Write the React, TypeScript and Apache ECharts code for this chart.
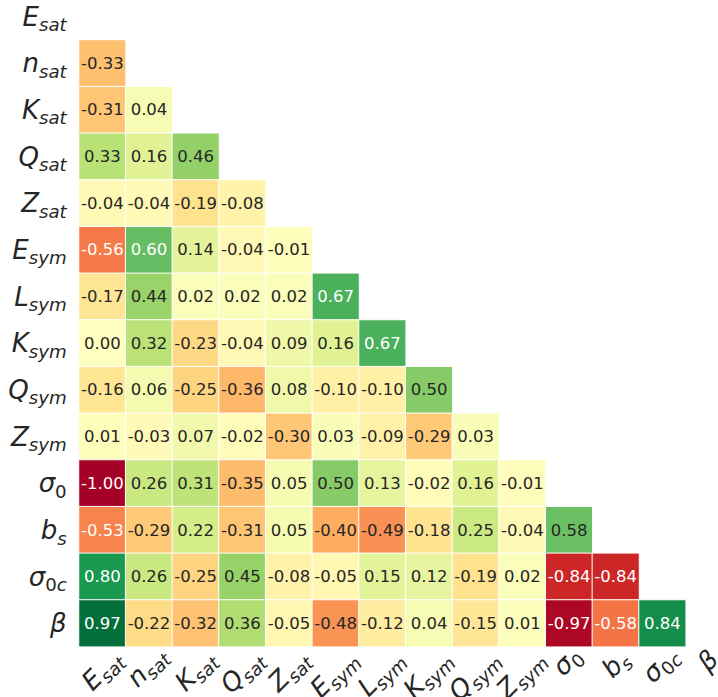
import React, { useEffect, useRef } from 'react';
import * as echarts from 'echarts';

// Variable names (categories), top-to-bottom / left-to-right
const variables = ['E_sat', 'n_sat', 'K_sat', 'Q_sat', 'Z_sat', 'E_sym', 'L_sym', 'K_sym', 'Q_sym', 'Z_sym', 'sigma_0', 'b_s', 'sigma_0c', 'beta'];

// Rich-text forms of the labels (mathtext-like)
const labelRich: Record<string, string> = {
  E_sat: '{m|E}{s|sat}',
  n_sat: '{m|n}{s|sat}',
  K_sat: '{m|K}{s|sat}',
  Q_sat: '{m|Q}{s|sat}',
  Z_sat: '{m|Z}{s|sat}',
  E_sym: '{m|E}{s|sym}',
  L_sym: '{m|L}{s|sym}',
  K_sym: '{m|K}{s|sym}',
  Q_sym: '{m|Q}{s|sym}',
  Z_sym: '{m|Z}{s|sym}',
  sigma_0: '{m|σ}{u|0}',
  b_s: '{m|b}{s|s}',
  sigma_0c: '{m|σ}{u|0}{s|c}',
  beta: '{m|β}',
};

// Lower-triangle correlation values (row i, columns 0..i-1)
const rowNsat = [-0.33];
const rowKsat = [-0.31, 0.04];
const rowQsat = [0.33, 0.16, 0.46];
const rowZsat = [-0.04, -0.04, -0.19, -0.08];
const rowEsym = [-0.56, 0.60, 0.14, -0.04, -0.01];
const rowLsym = [-0.17, 0.44, 0.02, 0.02, 0.02, 0.67];
const rowKsym = [0.00, 0.32, -0.23, -0.04, 0.09, 0.16, 0.67];
const rowQsym = [-0.16, 0.06, -0.25, -0.36, 0.08, -0.10, -0.10, 0.50];
const rowZsym = [0.01, -0.03, 0.07, -0.02, -0.30, 0.03, -0.09, -0.29, 0.03];
const rowSigma0 = [-1.00, 0.26, 0.31, -0.35, 0.05, 0.50, 0.13, -0.02, 0.16, -0.01];
const rowBs = [-0.53, -0.29, 0.22, -0.31, 0.05, -0.40, -0.49, -0.18, 0.25, -0.04, 0.58];
const rowSigma0c = [0.80, 0.26, -0.25, 0.45, -0.08, -0.05, 0.15, 0.12, -0.19, 0.02, -0.84, -0.84];
const rowBeta = [0.97, -0.22, -0.32, 0.36, -0.05, -0.48, -0.12, 0.04, -0.15, 0.01, -0.97, -0.58, 0.84];

const lowerRows: number[][] = [[], rowNsat, rowKsat, rowQsat, rowZsat, rowEsym, rowLsym, rowKsym, rowQsym, rowZsym, rowSigma0, rowBs, rowSigma0c, rowBeta];

// RdYlGn colormap stops
const rdYlGn = ['#a50026', '#d73027', '#f46d43', '#fdae61', '#fee08b', '#ffffbf', '#d9ef8b', '#a6d96a', '#66bd63', '#1a9850', '#006837'];

const FONT = 'DejaVu Sans';
const DARK = '#262626';

function hexToRgb(h: string) {
  const n = parseInt(h.slice(1), 16);
  return [(n >> 16) & 255, (n >> 8) & 255, n & 255];
}

function cmapRgb(v: number) {
  const norm = (v + 1) / 2;
  const idx = Math.min(255, Math.max(0, Math.floor(norm * 256)));
  const t = idx / 255;
  const pos = t * (rdYlGn.length - 1);
  const k = Math.min(rdYlGn.length - 2, Math.floor(pos));
  const f = pos - k;
  const a = hexToRgb(rdYlGn[k]);
  const b = hexToRgb(rdYlGn[k + 1]);
  return [0, 1, 2].map((i) => (a[i] + (b[i] - a[i]) * f) / 255);
}

function textColor(v: number) {
  const rgb = cmapRgb(v).map((c) => (c <= 0.03928 ? c / 12.92 : Math.pow((c + 0.055) / 1.055, 2.4)));
  const lum = 0.2126 * rgb[0] + 0.7152 * rgb[1] + 0.0722 * rgb[2];
  return lum > 0.408 ? DARK : '#ffffff';
}

const MAIN_SIZE = 26;
const SUB_SIZE = 18.2;

const rich = {
  m: { fontSize: MAIN_SIZE, fontStyle: 'italic', fontFamily: FONT, color: DARK, lineHeight: 34, verticalAlign: 'middle' },
  s: { fontSize: SUB_SIZE, fontStyle: 'italic', fontFamily: FONT, color: DARK, lineHeight: 23, verticalAlign: 'bottom' },
  u: { fontSize: SUB_SIZE, fontStyle: 'normal', fontFamily: FONT, color: DARK, lineHeight: 23, verticalAlign: 'bottom' },
};

// same styles with zrender naming (fill) for graphic texts
const graphicRich = {
  m: { ...rich.m, fill: DARK },
  s: { ...rich.s, fill: DARK },
  u: { ...rich.u, fill: DARK },
};

function measureLabel(name: string) {
  const canvas = document.createElement('canvas');
  const ctx = canvas.getContext('2d');
  if (!ctx) return 40;
  let w = 0;
  const re = /\{(\w)\|([^}]*)\}/g;
  let m: RegExpExecArray | null;
  const s = labelRich[name];
  while ((m = re.exec(s))) {
    const st = (rich as any)[m[1]];
    ctx.font = `${st.fontStyle} ${st.fontSize}px "${FONT}"`;
    w += ctx.measureText(m[2]).width;
  }
  return w;
}

// approximate ink ascent / depth of a label (for mimicking centred rotated tick labels)
function inkMetrics(name: string) {
  const first = name[0];
  let a = 19.5;
  if (first === 'n' || name.startsWith('sigma')) a = 14.6;
  if (first === 'b' || name === 'beta') a = 19.8;
  let d = 3;
  if (name.endsWith('sym')) d = 6.6;
  if (name === 'beta') d = 5.4;
  return { a, d };
}

export default function App() {
  const ref = useRef<HTMLDivElement>(null);
  useEffect(() => {
    if (!ref.current) return;
    const chart = echarts.init(ref.current, undefined, { renderer: 'svg' });

    const data: any[] = [];
    lowerRows.forEach((row, i) => {
      row.forEach((v, j) => {
        data.push({
          value: [j, i, v],
          label: { color: textColor(v) },
        });
      });
    });

    const cell = 46.67;
    chart.setOption({
      animation: false,
      grid: {
        left: 79,
        top: -6.7,
        width: cell * 14,
        height: cell * 14,
        containLabel: false,
        outerBoundsMode: 'none',
      },
      xAxis: {
        type: 'category',
        data: variables,
        axisLine: { show: false },
        axisTick: { show: false },
        axisLabel: { show: false },
      },
      yAxis: {
        type: 'category',
        inverse: true,
        data: variables,
        axisLine: { show: false },
        axisTick: { show: false },
        axisLabel: {
          interval: 0,
          margin: 12.3,
          formatter: (v: string) => labelRich[v],
          rich,
        },
      },
      visualMap: {
        type: 'continuous',
        show: false,
        min: -1,
        max: 1,
        dimension: 2,
        inRange: { color: rdYlGn },
      },
      series: [
        {
          type: 'heatmap',
          data,
          itemStyle: { borderColor: '#ffffff', borderWidth: 1 },
          label: {
            show: true,
            fontFamily: FONT,
            fontSize: 16.5,
            formatter: (p: any) => (p.value[2] as number).toFixed(2),
          },
          emphasis: { disabled: true },
        },
      ],
    });

    // Rotated (45°) x tick labels, centred under each column like matplotlib's ha='center'
    const n = variables.length;
    const yLast = chart.convertToPixel({ yAxisIndex: 0 }, n - 1) as number;
    const yPrev = chart.convertToPixel({ yAxisIndex: 0 }, n - 2) as number;
    const axisY = yLast + (yLast - yPrev) / 2;
    const TOP_GAP = 0.3;
    const elements = variables.map((v, j) => {
      const cx = chart.convertToPixel({ xAxisIndex: 0 }, j) as number;
      const w = measureLabel(v);
      const { a, d } = inkMetrics(v);
      const x = cx + 0.3536 * (a - d) - 6.36;
      const y = axisY + TOP_GAP + 0.3536 * w + 0.707 * a - 6.36;
      return {
        type: 'text',
        x,
        y,
        rotation: Math.PI / 4,
        silent: true,
        style: {
          text: labelRich[v],
          rich: graphicRich,
          align: 'center',
          verticalAlign: 'middle',
          fill: DARK,
        },
      };
    });
    chart.setOption({ graphic: { elements } });

    return () => chart.dispose();
  }, []);

  return <div ref={ref} style={{ position: 'absolute', left: 0, top: 0, width: 718, height: 697 }} />;
}
